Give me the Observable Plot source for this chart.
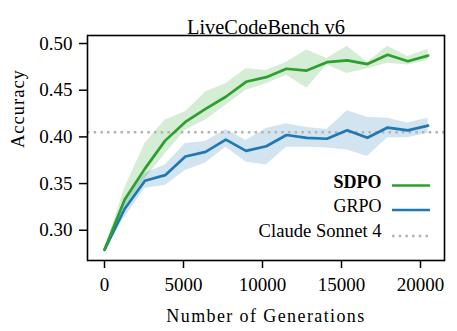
<!DOCTYPE html>
<html><head><meta charset="utf-8">
<script src="https://cdn.jsdelivr.net/npm/d3@7"></script>
<script src="https://cdn.jsdelivr.net/npm/@observablehq/plot@0.6"></script>
<style>
body{margin:0;background:#fff}
#chart svg{overflow:visible}
#chart svg, #chart svg text{font-family:"Liberation Serif",serif !important}
</style>
</head><body><div id="chart"></div>
<script>
const generations = [0,1280,2560,3840,5120,6400,7680,8960,10240,11520,12800,14080,15360,16640,17920,19200,20480];
const sdpoMean = [0.279,0.333,0.366,0.396,0.416,0.430,0.443,0.459,0.464,0.473,0.471,0.480,0.482,0.478,0.488,0.481,0.487];
const sdpoLow  = [0.279,0.325,0.355,0.382,0.407,0.418,0.434,0.450,0.457,0.466,0.452,0.477,0.468,0.473,0.479,0.477,0.482];
const sdpoHigh = [0.279,0.345,0.393,0.418,0.427,0.448,0.457,0.473,0.471,0.480,0.493,0.484,0.497,0.480,0.497,0.486,0.494];
const grpoMean = [0.279,0.323,0.353,0.359,0.379,0.384,0.397,0.385,0.390,0.402,0.399,0.398,0.407,0.399,0.410,0.407,0.412];
const grpoLow  = [0.279,0.314,0.345,0.348,0.364,0.372,0.389,0.373,0.370,0.389,0.389,0.388,0.386,0.379,0.399,0.399,0.404];
const grpoHigh = [0.279,0.332,0.361,0.370,0.393,0.395,0.408,0.396,0.409,0.414,0.410,0.408,0.428,0.421,0.420,0.415,0.420];
const claudeSonnet4 = 0.405;
const xTicks = [0,5000,10000,15000,20000];
const yTicks = [0.30,0.35,0.40,0.45,0.50];
const seriesNames = ["SDPO","GRPO","Claude Sonnet 4"];
const title = "LiveCodeBench v6";
const xLabel = "Number of Generations";
const yLabel = "Accuracy";

const green = "#2ca02c", blue = "#1f77b4", grey = "#b3b3b3";
const sdpo = generations.map((g,i)=>({g, mean:sdpoMean[i], lo:sdpoLow[i], hi:sdpoHigh[i]}));
const grpo = generations.map((g,i)=>({g, mean:grpoMean[i], lo:grpoLow[i], hi:grpoHigh[i]}));

const W = 457, H = 331, mL = 87, mR = 13, mT = 35, mB = 71;
const plot = Plot.plot({
  width: W, height: H,
  marginLeft: mL, marginRight: mR, marginTop: mT, marginBottom: mB,
  style: {fontFamily: '"Liberation Serif", serif', background: "white", color: "black"},
  x: {domain: [-1076, 21519]},
  y: {domain: [0.2676, 0.5086]},
  marks: [
    Plot.areaY(sdpo, {x: "g", y1: "lo", y2: "hi", fill: green, fillOpacity: 0.2}),
    Plot.areaY(grpo, {x: "g", y1: "lo", y2: "hi", fill: blue, fillOpacity: 0.2}),
    Plot.ruleY([claudeSonnet4], {stroke: grey, strokeWidth: 2.5, strokeDasharray: "2.5,4.2"}),
    Plot.lineY(grpo, {x: "g", y: "mean", stroke: blue, strokeWidth: 2.7}),
    Plot.lineY(sdpo, {x: "g", y: "mean", stroke: green, strokeWidth: 2.7}),
    Plot.frame({stroke: "black", strokeWidth: 1.6}),
    Plot.axisX({ticks: xTicks, tickSize: 8, tickPadding: 9, fontSize: 19, label: null, tickFormat: d3.format("d"), strokeWidth: 1.5}),
    Plot.axisY({ticks: yTicks, tickSize: 8, tickPadding: 7, fontSize: 19, label: null, tickFormat: d3.format(".2f"), strokeWidth: 1.5}),
    Plot.text([title], {frameAnchor: "top", dy: -15.6, fontSize: 20.4, text: d => d}),
    Plot.text([xLabel], {frameAnchor: "bottom", dy: 56, fontSize: 18, text: d => d, lineAnchor: "middle"}),
    Plot.text([yLabel], {frameAnchor: "left", dx: -69, fontSize: 18.5, rotate: -90, text: d => d}),
    Plot.text([seriesNames[0]], {frameAnchor: "bottom-right", dx: -63, dy: -72.5, fontSize: 18, fontWeight: "bold", textAnchor: "end", text: d => d}),
    Plot.text([seriesNames[1]], {frameAnchor: "bottom-right", dx: -63, dy: -48.5, fontSize: 18, textAnchor: "end", text: d => d}),
    Plot.text([seriesNames[2]], {frameAnchor: "bottom-right", dx: -63, dy: -24, fontSize: 18.6, textAnchor: "end", text: d => d})
  ]
});
document.getElementById("chart").appendChild(plot);

const svg = d3.select(plot);
svg.selectAll("text").filter(function(){ return this.textContent === xLabel; }).style("letter-spacing", "1.4px");
svg.selectAll("text").filter(function(){ return this.textContent === yLabel; }).style("letter-spacing", "1px");

// legend line samples
const lx1 = W - mR - 52, lx2 = W - mR - 14;
const samples = [
  {c: green, y: H - mB - 74.5, dash: null},
  {c: blue, y: H - mB - 50, dash: null},
  {c: grey, y: H - mB - 24, dash: "2.5,4.2"}
];
const g = svg.append("g");
samples.forEach(s => {
  const l = g.append("line").attr("x1", lx1).attr("x2", lx2).attr("y1", s.y).attr("y2", s.y)
    .attr("stroke", s.c).attr("stroke-width", s.dash ? 2.5 : 2.7);
  if (s.dash) l.attr("stroke-dasharray", s.dash);
});
</script>
</body></html>
